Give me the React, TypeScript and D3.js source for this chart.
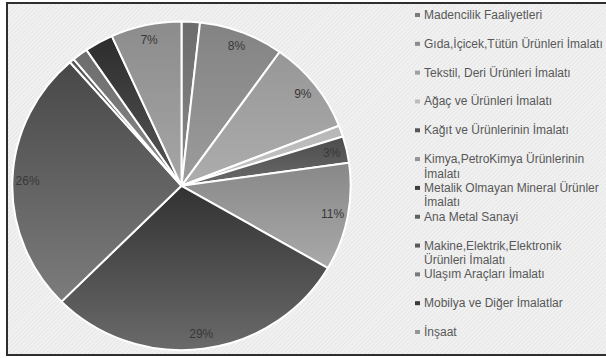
import React from "react";
import * as d3 from "d3";

const categories = [
  "Madencilik Faaliyetleri",
  "Gıda,İçicek,Tütün Ürünleri İmalatı",
  "Tekstil, Deri Ürünleri İmalatı",
  "Ağaç ve Ürünleri İmalatı",
  "Kağıt ve Ürünlerinin İmalatı",
  "Kimya,PetroKimya Ürünlerinin İmalatı",
  "Metalik Olmayan Mineral Ürünler İmalatı",
  "Ana Metal Sanayi",
  "Makine,Elektrik,Elektronik Ürünleri İmalatı",
  "Ulaşım Araçları İmalatı",
  "Mobilya ve Diğer İmalatlar",
  "İnşaat",
];

const legendLines = [
  ["Madencilik Faaliyetleri"],
  ["Gıda,İçicek,Tütün Ürünleri İmalatı"],
  ["Tekstil, Deri Ürünleri İmalatı"],
  ["Ağaç ve Ürünleri İmalatı"],
  ["Kağıt ve Ürünlerinin İmalatı"],
  ["Kimya,PetroKimya Ürünlerinin", "İmalatı"],
  ["Metalik Olmayan Mineral Ürünler", "İmalatı"],
  ["Ana Metal Sanayi"],
  ["Makine,Elektrik,Elektronik", "Ürünleri İmalatı"],
  ["Ulaşım Araçları İmalatı"],
  ["Mobilya ve Diğer İmalatlar"],
  ["İnşaat"],
];

const values = [1.75, 8.1, 9.2, 1.1, 2.6, 10.6, 29.2, 26.0, 0.45, 1.5, 2.75, 6.75];

const sliceLabels = ["", "8%", "9%", "", "3%", "11%", "29%", "26%", "", "", "", "7%"];

const colorTop = ["#6c6c6c", "#838383", "#979797", "#b6b6b6", "#4c4c4c", "#888888", "#323232", "#484848", "#555555", "#6c6c6c", "#2c2c2c", "#8c8c8c"];
const colorBottom = ["#8a8a8a", "#9c9c9c", "#adadad", "#c8c8c8", "#6a6a6a", "#a9a9a9", "#6a6a6a", "#7c7c7c", "#777777", "#8a8a8a", "#585858", "#a6a6a6"];
const legendColors = ["#7a7a7a", "#8c8c8c", "#a0a0a0", "#bdbdbd", "#555555", "#949494", "#3c3c3c", "#606060", "#5a5a5a", "#7a7a7a", "#3a3a3a", "#969696"];

const W = 606;
const H = 358;

export default function App() {
  const cx = 181.5;
  const cy = 185.8;
  const ry = 164.3;
  const rx = 169.2;
  const sx = rx / ry;

  const pie = d3.pie<number>().sort(null).value((d) => d);
  const arcs = pie(values);
  const arc = d3.arc<d3.PieArcDatum<number>>().innerRadius(0).outerRadius(ry);

  const labelR = 0.91;
  const legendY = d3.scalePoint<string>().domain(categories).range([15, 332]);

  return (
    <svg
      width={W}
      height={H}
      style={{ position: "absolute", left: 0, top: 0 }}
      xmlns="http://www.w3.org/2000/svg"
    >
      <defs>
        <pattern id="hatch" width="3" height="3" patternUnits="userSpaceOnUse" patternTransform="rotate(45)">
          <rect width="3" height="3" fill="#f1f1f1" />
          <line x1="0" y1="0" x2="0" y2="3" stroke="#dddddd" strokeWidth="1" />
        </pattern>
        {arcs.map((a, i) => (
          <linearGradient key={i} id={`g${i}`} x1="0" y1="0" x2="0" y2="1">
            <stop offset="0" stopColor={colorTop[i]} />
            <stop offset="1" stopColor={colorBottom[i]} />
          </linearGradient>
        ))}
      </defs>
      <rect x={0} y={0} width={W} height={H} fill="#ffffff" />
      <rect x={7} y={3} width={W - 7} height={352} fill="url(#hatch)" />
      <line x1={6} y1={3} x2={W} y2={3} stroke="#2e2e2e" strokeWidth={2} />
      <line x1={7} y1={3} x2={7} y2={355} stroke="#2e2e2e" strokeWidth={2} />
      <line x1={6} y1={355} x2={W} y2={355} stroke="#2e2e2e" strokeWidth={2} />

      <g transform={`translate(${cx},${cy}) scale(${sx},1)`}>
        {arcs.map((a, i) => (
          <path
            key={i}
            d={arc(a) || ""}
            fill={`url(#g${i})`}
            stroke="#ffffff"
            strokeWidth={2}
            strokeLinejoin="round"
            vectorEffect="non-scaling-stroke"
          />
        ))}
      </g>

      <g fontFamily="'Liberation Sans', Arial, sans-serif" fontSize={12} fill="#383838">
        {arcs.map((a, i) => {
          if (!sliceLabels[i]) return null;
          const mid = (a.startAngle + a.endAngle) / 2;
          const x = cx + Math.sin(mid) * rx * labelR;
          const y = cy - Math.cos(mid) * ry * labelR;
          return (
            <text key={i} x={x} y={y} textAnchor="middle" dominantBaseline="central">
              {sliceLabels[i]}
            </text>
          );
        })}
      </g>

      <g fontFamily="'Liberation Sans', Arial, sans-serif" fontSize={12} fill="#585858">
        {categories.map((c, i) => {
          const y = legendY(c) as number;
          return (
            <g key={c}>
              <rect x={415} y={y - 2} width={5} height={4} fill={legendColors[i]} />
              {legendLines[i].map((ln, j) => (
                <text key={j} x={424} y={y + j * 14.5} dominantBaseline="central">
                  {ln}
                </text>
              ))}
            </g>
          );
        })}
      </g>
    </svg>
  );
}
